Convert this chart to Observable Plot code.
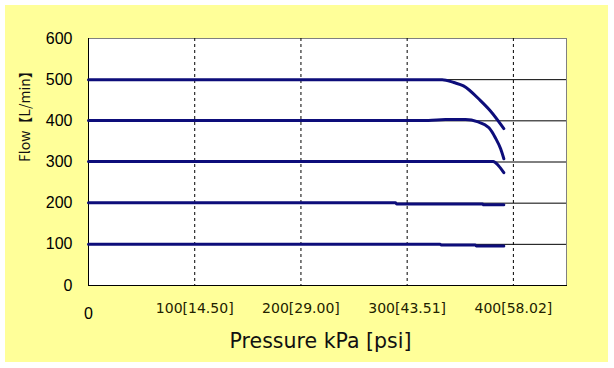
<!DOCTYPE html>
<html>
<head>
<meta charset="utf-8">
<script src="https://cdn.jsdelivr.net/npm/d3@7"></script>
<script src="https://cdn.jsdelivr.net/npm/@observablehq/plot@0.6"></script>
<style>
  html, body { margin: 0; padding: 0; background: #ffffff; }
  #wrap { position: absolute; left: 5px; top: 5px; width: 603px; height: 357px; background: #ffff99; }
  svg { display: block; background: transparent; }
</style>
</head>
<body>
<div id="wrap"></div>
<script>
// Pressure (kPa) and flow (L/min) for each curve
const curve500x = [0, 333, 344, 353, 369, 378, 391];
const curve500y = [500, 500, 493, 485, 449, 425, 381];
const curve400x = [0, 320, 336, 355, 366, 377, 383, 388, 391];
const curve400y = [401, 401, 403, 403, 398, 383, 359, 332, 308];
const curve300x = [0, 381, 386, 391];
const curve300y = [301, 301, 291, 274];
const curve200x = [0, 289, 290, 371, 372, 391];
const curve200y = [201, 201, 198, 198, 196, 196];
const curve100x = [0, 331, 332, 364, 365, 391];
const curve100y = [100, 100, 98.5, 98.5, 96, 96];

const yTicks = [0, 100, 200, 300, 400, 500, 600];
const yGrid = [100, 200, 300, 400, 500];
const xGrid = [100, 200, 300, 400];
const xTickLabels = ["100[14.50]", "200[29.00]", "300[43.51]", "400[58.02]"];
const xTitle = "Pressure kPa [psi]";
const yTitle = "Flow【L/min】";

const curves = [
  [curve500x, curve500y, "500"],
  [curve400x, curve400y, "400"],
  [curve300x, curve300y, "300"],
  [curve200x, curve200y, "200"],
  [curve100x, curve100y, "100"]
];
const data = curves.flatMap(([xs, ys, s]) => xs.map((x, i) => ({x, y: ys[i], s})));

const chart = Plot.plot({
  width: 603,
  height: 357,
  marginLeft: 83,
  marginRight: 42,
  marginTop: 33,
  marginBottom: 77,
  style: {background: "transparent", overflow: "visible"},
  x: {domain: [0, 450]},
  y: {domain: [0, 600]},
  marks: [
    Plot.frame({fill: "white", stroke: "#808080", strokeWidth: 1}),
    Plot.ruleY(yGrid, {stroke: "black", strokeWidth: 1, strokeOpacity: 1}),
    Plot.ruleX(xGrid, {stroke: "black", strokeWidth: 1, strokeDasharray: "3,3"}),
    Plot.frame({anchor: "left", stroke: "black", strokeWidth: 1}),
    Plot.frame({anchor: "bottom", stroke: "black", strokeWidth: 1}),
    Plot.line(data, {x: "x", y: "y", z: "s", stroke: "#0d0d7a", strokeWidth: 3, curve: "monotone-x"}),
    Plot.axisY({ticks: yTicks, tickSize: 0, tickPadding: 16, label: null,
      fontSize: 16, fontFamily: "Liberation Sans, Arial, sans-serif", fill: "black"}),
    Plot.axisX({ticks: [0], tickSize: 0, tickPadding: 22, label: null,
      fontSize: 16, fontFamily: "Liberation Sans, Arial, sans-serif", fill: "black"}),
    Plot.axisX({ticks: xGrid, tickSize: 0, tickPadding: 18, label: null,
      tickFormat: (d, i) => xTickLabels[i],
      fontSize: 14, fontFamily: "DejaVu Sans, sans-serif", fill: "#222200"}),
    Plot.text([xTitle], {frameAnchor: "bottom", dy: 62, dx: -7, text: d => d,
      fontSize: 20.5, fontFamily: "DejaVu Sans, sans-serif", fill: "#111"}),
    Plot.text([yTitle], {frameAnchor: "left", dx: -63, rotate: -90, text: d => d,
      fontSize: 14, fontFamily: "Noto Sans CJK JP, sans-serif", fill: "#111"})
  ]
});
document.getElementById("wrap").appendChild(chart);
</script>
</body>
</html>
